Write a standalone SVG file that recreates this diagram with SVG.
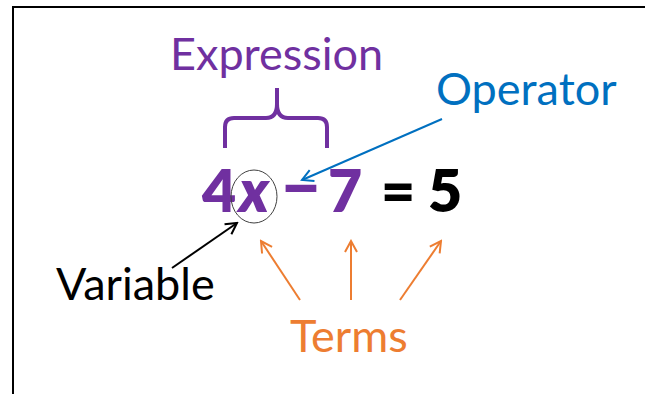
<svg xmlns="http://www.w3.org/2000/svg" width="645" height="394" viewBox="0 0 645 394">
  <style>
    .lbl { font-family: Lato, "Open Sans", "Liberation Sans", sans-serif; font-size: 45px; }
    .eq { font-family: Lato, "Open Sans", "Liberation Sans", sans-serif; font-size: 59px; font-weight: 800; text-anchor: middle; }
    .purple { fill: #7030A0; }
    .blue { fill: #0070C0; }
    .orange { fill: #ED7D31; }
    .black { fill: #000000; }
    .conn { fill: none; stroke-width: 2; }
  </style>
  <defs>
    <marker id="ahBlue" viewBox="0 0 16 16" refX="14" refY="8" markerWidth="16" markerHeight="16" markerUnits="userSpaceOnUse" orient="auto">
      <path d="M3,2 L14,8 L3,14" fill="none" stroke="#0070C0" stroke-width="2"/>
    </marker>
    <marker id="ahBlack" viewBox="0 0 16 16" refX="14" refY="8" markerWidth="16" markerHeight="16" markerUnits="userSpaceOnUse" orient="auto">
      <path d="M3,2 L14,8 L3,14" fill="none" stroke="#000000" stroke-width="2"/>
    </marker>
    <marker id="ahOrange" viewBox="0 0 16 16" refX="14" refY="8" markerWidth="16" markerHeight="16" markerUnits="userSpaceOnUse" orient="auto">
      <path d="M3,2 L14,8 L3,14" fill="none" stroke="#ED7D31" stroke-width="2"/>
    </marker>
  </defs>
  <rect width="645" height="394" fill="#ffffff"/>
  <path d="M13,395 V7 H646" fill="none" stroke="#000000" stroke-width="2"/>

  <g id="expression-label">
    <text class="lbl purple" x="170" y="70">Expression</text>
  </g>
  <g id="brace">
    <path d="M225,148 V127 Q225,118 234,118 H266 Q277,118 277,104 V88 M277,104 Q277,118 288,118 H318 Q327,118 327,127 V148" fill="none" stroke="#7030A0" stroke-width="4"/>
  </g>
  <g id="equation">
    <text class="eq purple" x="219" y="212">4</text>
    <text class="eq purple" x="254" y="212" font-style="italic">x</text>
    <text class="eq purple" transform="translate(301,209) scale(1.27,1.15)" x="0" y="0">–</text>
    <text class="eq purple" x="345" y="212">7</text>
    <text class="eq black" x="398" y="212">=</text>
    <text class="eq black" x="445" y="212">5</text>
  </g>
  <g id="variable-circle">
    <ellipse cx="254" cy="196.5" rx="23" ry="26.5" fill="none" stroke="#404040" stroke-width="1"/>
  </g>
  <g id="operator-label">
    <text class="lbl blue" x="436" y="105">Operator</text>
  </g>
  <g id="variable-label">
    <text class="lbl black" x="56" y="300">Variable</text>
  </g>
  <g id="terms-label">
    <text class="lbl orange" x="290" y="352">Terms</text>
  </g>

  <g id="connectors">
    <line class="conn" x1="442" y1="119" x2="302" y2="180" stroke="#0070C0" marker-end="url(#ahBlue)"/>
    <line class="conn" x1="172" y1="268" x2="237" y2="223" stroke="#000000" marker-end="url(#ahBlack)"/>
    <line class="conn" x1="300" y1="300" x2="261" y2="241" stroke="#ED7D31" marker-end="url(#ahOrange)"/>
    <line class="conn" x1="351" y1="300" x2="351" y2="241" stroke="#ED7D31" marker-end="url(#ahOrange)"/>
    <line class="conn" x1="400" y1="300" x2="441" y2="241" stroke="#ED7D31" marker-end="url(#ahOrange)"/>
  </g>
</svg>
